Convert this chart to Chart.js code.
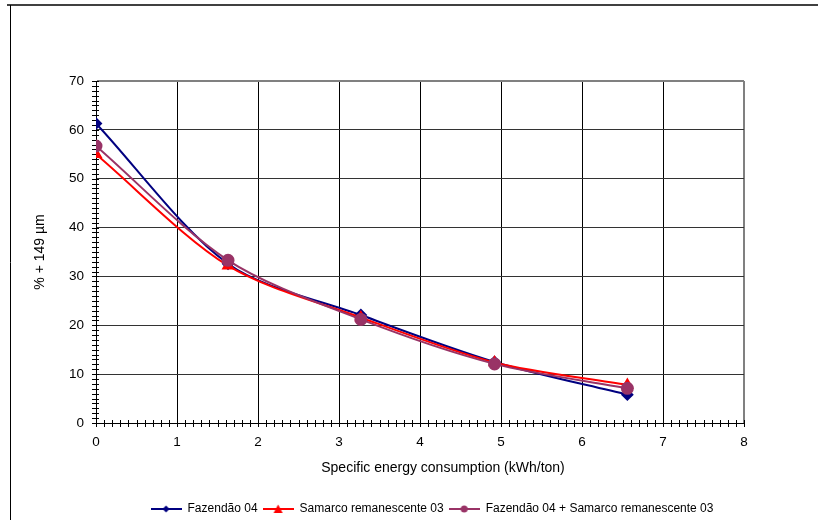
<!DOCTYPE html>
<html>
<head>
<meta charset="utf-8">
<script src="https://cdn.jsdelivr.net/npm/chart.js@4/dist/chart.umd.min.js"></script>
<style>
  html, body { margin: 0; padding: 0; background: #fff; }
  #wrap { width: 818px; height: 520px; }
</style>
</head>
<body>
<div id="wrap"><canvas id="energyChart" width="818" height="520"></canvas></div>
<script>
// values
var energy = [0, 1.63, 3.27, 4.92, 6.56];          // kWh/ton
var fazendao = [61.3, 32.6, 22.1, 12.5, 5.8];      // % +149 um
var samarco = [55.0, 32.2, 21.6, 12.4, 7.8];
var mistura = [56.7, 33.3, 21.2, 12.1, 7.1];
var xTicks = [0, 1, 2, 3, 4, 5, 6, 7, 8];
var yTicks = [0, 10, 20, 30, 40, 50, 60, 70];

var FONT = "'Liberation Sans', Arial, sans-serif";

function points(ys){
    return energy.map(function(x, i){ return { x: x, y: ys[i] }; });
}

// little legend symbol: line with the marker in the middle
function legendSymbol(color, shape){
    var c = document.createElement('canvas');
    c.width = 31; c.height = 12;
    var g = c.getContext('2d');
    g.strokeStyle = color; g.fillStyle = color; g.lineWidth = 2;
    g.beginPath(); g.moveTo(0, 6); g.lineTo(31, 6); g.stroke();
    g.beginPath();
    if(shape === 'diamond'){
        g.moveTo(15.5, 2.5); g.lineTo(19, 6); g.lineTo(15.5, 9.5); g.lineTo(12, 6);
    } else if(shape === 'triangle'){
        g.moveTo(15.5, 1.5); g.lineTo(20, 10); g.lineTo(11, 10);
    } else {
        g.arc(15.5, 6, 3.5, 0, Math.PI * 2);
    }
    g.closePath(); g.fill();
    return c;
}

var frame = {
    id: 'frame',
    afterLayout: function(chart){
        // legend sits a bit lower in the original
        chart.legend.top += 5;
        chart.legend.bottom += 5;
    },
    beforeDraw: function(chart){
        var c = chart.ctx;
        c.save();
        c.fillStyle = '#fff';
        c.fillRect(0, 0, chart.width, chart.height);
        c.strokeStyle = '#404040'; c.lineWidth = 2;
        c.beginPath(); c.moveTo(7, 5); c.lineTo(chart.width, 5); c.stroke();
        c.strokeStyle = '#000'; c.lineWidth = 1;
        c.beginPath(); c.moveTo(10.5, 5); c.lineTo(10.5, chart.height); c.stroke();
        c.restore();
    },
    beforeDatasetsDraw: function(chart){
        var c = chart.ctx, xs = chart.scales.x, ys = chart.scales.y;
        var x0 = xs.getPixelForValue(0), y0 = ys.getPixelForValue(0);
        c.save();
        c.strokeStyle = '#000'; c.lineWidth = 1;
        c.beginPath();
        var i, p;
        for(i = 0; i <= 80; i++){
            p = Math.round(xs.getPixelForValue(i / 10)) + 0.5;
            c.moveTo(p, y0 - 3); c.lineTo(p, y0 + 4);
        }
        for(i = 0; i <= 70; i++){
            p = Math.round(ys.getPixelForValue(i)) + 0.5;
            c.moveTo(x0 - 4, p); c.lineTo(x0 + 3, p);
        }
        c.stroke();
        c.restore();
    },
    afterDraw: function(chart){
        var c = chart.ctx;
        c.save();
        c.fillStyle = '#000';
        c.font = '14px ' + FONT;
        c.textAlign = 'center'; c.textBaseline = 'middle';
        c.fillText('Specific energy consumption (kWh/ton)', 443, 468);
        c.translate(40, 252);
        c.rotate(-Math.PI / 2);
        c.fillText('% + 149 \u00b5m', 0, 0);
        c.restore();
    }
};

function near(v, t){ return Math.abs(v - t) < 1e-6; }

var chart = new Chart(document.getElementById('energyChart').getContext('2d'), {
    type: 'line',
    data: {
        datasets: [
            { label: 'Fazendão 04', data: points(fazendao), borderColor: '#000080', backgroundColor: '#000080',
              pointStyle: 'rectRot', pointRadius: 5, borderWidth: 2, order: 2,
              legendSymbol: legendSymbol('#000080', 'diamond') },
            { label: 'Samarco remanescente 03', data: points(samarco), borderColor: '#ff0000', backgroundColor: '#ff0000',
              pointStyle: 'triangle', pointRadius: 5.5, borderWidth: 2, order: 1,
              legendSymbol: legendSymbol('#ff0000', 'triangle') },
            { label: 'Fazendão 04 + Samarco remanescente 03', data: points(mistura), borderColor: '#993366', backgroundColor: '#993366',
              pointStyle: 'circle', pointRadius: 5.5, borderWidth: 2, order: 0,
              legendSymbol: legendSymbol('#993366', 'circle') }
        ]
    },
    options: {
        responsive: false,
        animation: false,
        devicePixelRatio: 1,
        layout: { padding: { top: 81, left: 46, right: 0, bottom: 0 } },
        elements: { line: { tension: 0.3, fill: false }, point: { borderWidth: 1, hoverRadius: 5 } },
        plugins: {
            tooltip: { enabled: false },
            legend: {
                position: 'bottom',
                labels: {
                    font: { family: FONT, size: 12 },
                    color: '#000',
                    usePointStyle: true,
                    pointStyleWidth: 31,
                    padding: 5,
                    generateLabels: function(chart){
                        return chart.data.datasets.map(function(ds, i){
                            return { text: ds.label, pointStyle: ds.legendSymbol, datasetIndex: i,
                                     fillStyle: ds.borderColor, strokeStyle: ds.borderColor, lineWidth: 0, hidden: false };
                        });
                    }
                }
            }
        },
        scales: {
            x: {
                type: 'linear', min: 0, max: 8,
                afterBuildTicks: function(s){ s.ticks = xTicks.map(function(v){ return { value: v }; }); },
                ticks: { font: { family: FONT, size: 13.5 }, color: '#000', padding: 11, maxRotation: 0 },
                grid: {
                    drawTicks: false,
                    color: function(ctx){ return ctx.tick && near(ctx.tick.value, 8) ? '#808080' : '#000'; },
                    lineWidth: function(ctx){ return ctx.tick && near(ctx.tick.value, 8) ? 2 : 1; }
                },
                border: { color: '#000', width: 1 },
                afterFit: function(s){ s.height = 97 - s.chart.legend.height; }
            },
            y: {
                min: 0, max: 70,
                afterBuildTicks: function(s){ s.ticks = yTicks.map(function(v){ return { value: v }; }); },
                ticks: { font: { family: FONT, size: 13.5 }, color: '#000', padding: 12 },
                grid: {
                    drawTicks: false,
                    color: function(ctx){ return ctx.tick && near(ctx.tick.value, 70) ? '#808080' : '#333'; },
                    lineWidth: function(ctx){ return ctx.tick && near(ctx.tick.value, 70) ? 2 : 1; }
                },
                border: { color: '#000', width: 1 },
                afterFit: function(s){ s.width = 50; }
            },
            pad: {
                position: 'right', type: 'linear', min: 0, max: 1,
                ticks: { display: false }, grid: { display: false }, border: { display: false },
                afterFit: function(s){ s.width = 74; }
            }
        }
    },
    plugins: [frame]
});
</script>
</body>
</html>
